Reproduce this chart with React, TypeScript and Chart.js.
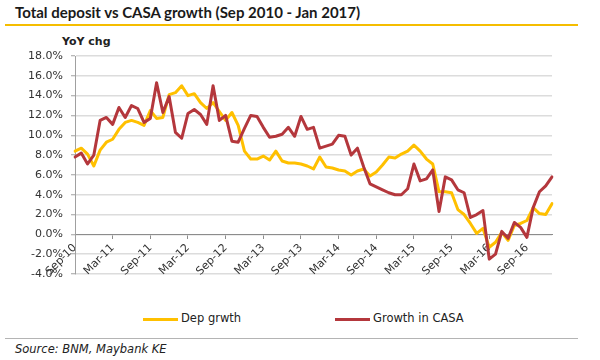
import React, { useEffect, useRef } from 'react';
import { Chart, registerables } from 'chart.js';

Chart.register(...registerables);

const TITLE = 'Total deposit vs CASA growth (Sep 2010 - Jan 2017)';
const Y_AXIS_TITLE = 'YoY chg';
const SOURCE = 'Source: BNM, Maybank KE';

const MONTHS = [
  'Sep-10', 'Oct-10', 'Nov-10', 'Dec-10',
  'Jan-11', 'Feb-11', 'Mar-11', 'Apr-11', 'May-11', 'Jun-11', 'Jul-11', 'Aug-11', 'Sep-11', 'Oct-11', 'Nov-11', 'Dec-11',
  'Jan-12', 'Feb-12', 'Mar-12', 'Apr-12', 'May-12', 'Jun-12', 'Jul-12', 'Aug-12', 'Sep-12', 'Oct-12', 'Nov-12', 'Dec-12',
  'Jan-13', 'Feb-13', 'Mar-13', 'Apr-13', 'May-13', 'Jun-13', 'Jul-13', 'Aug-13', 'Sep-13', 'Oct-13', 'Nov-13', 'Dec-13',
  'Jan-14', 'Feb-14', 'Mar-14', 'Apr-14', 'May-14', 'Jun-14', 'Jul-14', 'Aug-14', 'Sep-14', 'Oct-14', 'Nov-14', 'Dec-14',
  'Jan-15', 'Feb-15', 'Mar-15', 'Apr-15', 'May-15', 'Jun-15', 'Jul-15', 'Aug-15', 'Sep-15', 'Oct-15', 'Nov-15', 'Dec-15',
  'Jan-16', 'Feb-16', 'Mar-16', 'Apr-16', 'May-16', 'Jun-16', 'Jul-16', 'Aug-16', 'Sep-16', 'Oct-16', 'Nov-16', 'Dec-16',
  'Jan-17',
];

const TICK_LABELS = [
  'Sep-10', 'Mar-11', 'Sep-11', 'Mar-12', 'Sep-12', 'Mar-13', 'Sep-13',
  'Mar-14', 'Sep-14', 'Mar-15', 'Sep-15', 'Mar-16', 'Sep-16',
];

const SERIES_NAMES = ['Dep grwth', 'Growth in CASA'];
const SERIES_COLORS = ['#FFC000', '#B4373C'];

const DEP_GROWTH = [
  8.4, 8.7, 8.1, 6.9,
  8.5, 9.3, 9.6, 10.6, 11.3, 11.5, 11.3, 11.0, 12.5, 11.7, 11.8, 14.1,
  14.3, 15.0, 14.0, 14.2, 13.3, 12.7, 13.3, 12.4, 11.5, 12.3, 11.0, 8.4,
  7.6, 7.6, 7.9, 7.5, 8.4, 7.4, 7.2, 7.2, 7.1, 6.9, 6.6, 7.8,
  6.8, 6.7, 6.5, 6.4, 6.0, 6.4, 6.6, 5.9, 6.3, 7.0, 7.8, 7.7,
  8.1, 8.4, 9.0, 8.4, 7.6, 7.1, 4.3, 4.3, 4.2, 2.5, 2.0, 1.1,
  0.1, 0.6, -1.3, -0.8, 0.2, -0.6, 0.9, 1.1, 1.4, 2.7, 2.1, 2.0,
  3.1,
];

const CASA_GROWTH = [
  7.8, 8.2, 7.1, 8.0,
  11.5, 11.8, 11.1, 12.8, 11.8, 13.0, 12.7, 11.3, 11.7, 15.3, 12.3, 13.9,
  10.3, 9.7, 12.2, 12.6, 12.1, 11.1, 15.0, 11.5, 12.0, 9.4, 9.3, 10.7,
  12.0, 11.9, 10.8, 9.8, 9.9, 10.1, 10.8, 9.9, 11.9, 10.6, 10.8, 8.7,
  8.9, 9.1, 10.0, 9.9, 8.0, 8.7, 6.8, 5.1, 4.8, 4.5, 4.2, 4.0,
  4.0, 4.6, 7.1, 5.4, 5.6, 6.5, 2.3, 5.8, 5.5, 4.5, 4.2, 1.7,
  2.0, 2.4, -2.5, -2.0, 0.3, -0.4, 1.2, 0.7, -0.3, 2.7, 4.3, 4.9,
  5.8,
];

const Y_MIN = -4;
const Y_MAX = 18;
const Y_STEP = 2;

const BASE_FONT = '"DejaVu Sans", "Noto Sans", sans-serif';
const TITLE_FONT = 'Lato, "DejaVu Sans", sans-serif';

export default function App() {
  const canvasRef = useRef<HTMLCanvasElement>(null);

  useEffect(() => {
    const canvas = canvasRef.current;
    if (!canvas) return;
    Chart.defaults.font.family = BASE_FONT;
    const chart = new Chart(canvas, {
      type: 'line',
      data: {
        labels: MONTHS,
        datasets: [
          {
            label: SERIES_NAMES[0],
            data: DEP_GROWTH,
            borderColor: SERIES_COLORS[0],
            backgroundColor: SERIES_COLORS[0],
            borderWidth: 3,
            pointRadius: 0,
            tension: 0,
            borderJoinStyle: 'round',
            borderCapStyle: 'round',
            order: 2,
          },
          {
            label: SERIES_NAMES[1],
            data: CASA_GROWTH,
            borderColor: SERIES_COLORS[1],
            backgroundColor: SERIES_COLORS[1],
            borderWidth: 3,
            pointRadius: 0,
            tension: 0,
            borderJoinStyle: 'round',
            borderCapStyle: 'round',
            order: 1,
          },
        ],
      },
      options: {
        responsive: false,
        animation: false,
        devicePixelRatio: 1,
        layout: { padding: { left: 0, right: 48, top: 56, bottom: 26 } },
        plugins: {
          legend: { display: false },
          tooltip: { enabled: false },
          title: { display: false },
        },
        scales: {
          x: {
            type: 'category',
            position: { y: 0 } as any,
            offset: false,
            grid: {
              display: true,
              drawOnChartArea: false,
              drawTicks: true,
              tickLength: 4,
              color: '#8c8c8c',
              lineWidth: 1,
            },
            border: { display: true, color: '#8c8c8c', width: 1 },
            afterBuildTicks: (scale: any) => {
              scale.ticks = scale.ticks.filter((t: any) => TICK_LABELS.includes(MONTHS[t.value]));
            },
            ticks: {
              autoSkip: false,
              maxRotation: 45,
              minRotation: 45,
              padding: 3,
              color: '#333333',
              font: { family: BASE_FONT, size: 11 },
            },
          },
          y: {
            min: Y_MIN,
            max: Y_MAX,
            afterFit: (scale: any) => {
              scale.width = 75;
            },
            ticks: {
              stepSize: Y_STEP,
              padding: 8,
              color: '#333333',
              font: { family: BASE_FONT, size: 11 },
              callback: (v: any) => Number(v).toFixed(1) + '%',
            },
            grid: {
              color: '#dcdcdc',
              lineWidth: 1.5,
              tickLength: 4,
              tickColor: '#a0a0a0',
              tickWidth: 1,
            },
            border: { display: true, color: '#a0a0a0', width: 1 },
          },
        },
      },
    });
    return () => chart.destroy();
  }, []);

  return (
    <div
      style={{
        position: 'absolute',
        left: 0,
        top: 0,
        width: 600,
        height: 360,
        background: '#ffffff',
        overflow: 'hidden',
        fontFamily: BASE_FONT,
        color: '#222222',
      }}
    >
      <div
        style={{
          position: 'absolute',
          left: 15,
          top: 3,
          fontFamily: TITLE_FONT,
          fontWeight: 700,
          fontSize: 15,
          lineHeight: '18px',
          whiteSpace: 'nowrap',
          color: '#1a1a1a',
        }}
      >
        {TITLE}
      </div>
      <div style={{ position: 'absolute', left: 5, top: 24, width: 573, height: 2, background: '#F5BD00' }} />
      <div
        style={{
          position: 'absolute',
          left: 62,
          top: 35,
          fontWeight: 700,
          fontSize: 11,
          lineHeight: '13px',
          whiteSpace: 'nowrap',
          color: '#222222',
        }}
      >
        {Y_AXIS_TITLE}
      </div>
      <canvas
        ref={canvasRef}
        width={600}
        height={300}
        style={{ position: 'absolute', left: 0, top: 0, width: 600, height: 300 }}
      />
      <div style={{ position: 'absolute', left: 143, top: 317.5, width: 35, height: 3, background: SERIES_COLORS[0] }} />
      <div
        style={{ position: 'absolute', left: 181, top: 312, fontSize: 11.5, lineHeight: '13px', whiteSpace: 'nowrap', color: '#222222' }}
      >
        {SERIES_NAMES[0]}
      </div>
      <div style={{ position: 'absolute', left: 335, top: 317.5, width: 35, height: 3, background: SERIES_COLORS[1] }} />
      <div
        style={{ position: 'absolute', left: 373, top: 312, fontSize: 11.5, lineHeight: '13px', whiteSpace: 'nowrap', color: '#222222' }}
      >
        {SERIES_NAMES[1]}
      </div>
      <div style={{ position: 'absolute', left: 5, top: 338, width: 573, height: 1, background: '#b4b4b4' }} />
      <div
        style={{
          position: 'absolute',
          left: 15,
          top: 342,
          fontSize: 11.5,
          fontStyle: 'italic',
          lineHeight: '14px',
          whiteSpace: 'nowrap',
          color: '#222222',
        }}
      >
        {SOURCE}
      </div>
    </div>
  );
}
